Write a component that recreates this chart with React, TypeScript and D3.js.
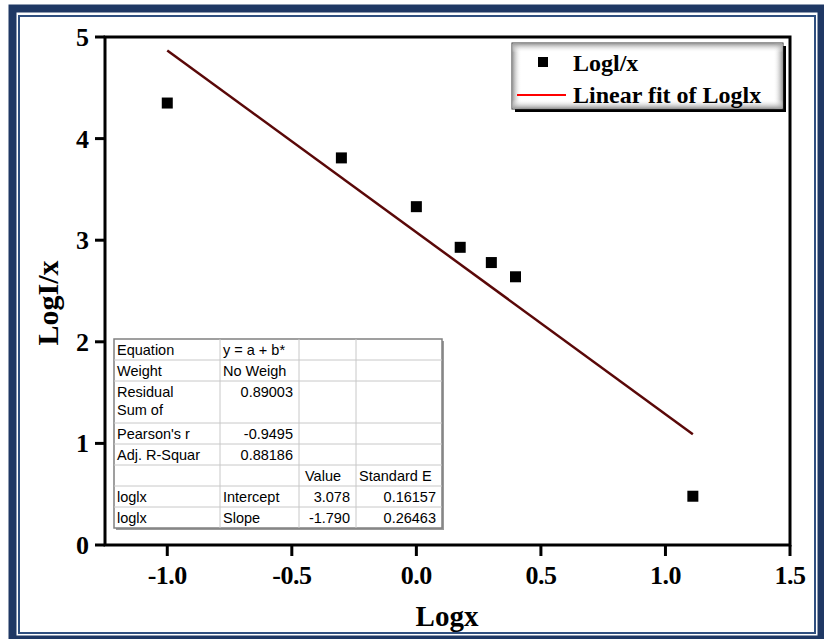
import React from "react";
import * as d3 from "d3";

const xValues = [-1.0, -0.301, 0.0, 0.176, 0.301, 0.398, 1.11];
const yValues = [4.35, 3.81, 3.33, 2.93, 2.78, 2.64, 0.48];
const fitX = [-1.0, 1.11];
const fitY = [4.868, 1.091];
const xTicks = [-1.0, -0.5, 0.0, 0.5, 1.0, 1.5];
const yTicks = [0, 1, 2, 3, 4, 5];
const legendLabels = ["Logl/x", "Linear fit of Loglx"];

const tableCol1 = ["Equation", "Weight", "Residual|Sum of", "Pearson's r", "Adj. R-Squar", "", "loglx", "loglx"];
const tableCol2 = ["y = a + b*", "No Weigh", "0.89003", "-0.9495", "0.88186", "", "Intercept", "Slope"];
const tableCol3 = ["", "", "", "", "", "Value", "3.078", "-1.790"];
const tableCol4 = ["", "", "", "", "", "Standard E", "0.16157", "0.26463"];
const rowSpans = [1, 1, 2, 1, 1, 1, 1, 1];

const W = 824;
const H = 639;
const serif = "'Liberation Serif', 'Times New Roman', serif";
const sans = "'Liberation Sans', Arial, sans-serif";
const fmtX = (t: number) => d3.format(".1f")(t).replace("\u2212", "-");

export default function App() {
  const x = d3.scaleLinear().domain([-1.25, 1.5]).range([105, 790]);
  const y = d3.scaleLinear().domain([0, 5]).range([545, 37]);
  const line = d3
    .line<number>()
    .x((_, i) => x(fitX[i]))
    .y((d) => y(d));

  // table geometry
  const colEdges = [114, 220, 299, 356, 442];
  const totalRows = d3.sum(rowSpans);
  const rowY = d3.scaleLinear().domain([0, totalRows]).range([339, 528]);
  const rowStarts: number[] = [];
  let acc = 0;
  rowSpans.forEach((s) => {
    rowStarts.push(acc);
    acc += s;
  });
  const isNum = (s: string) => /^-?\d/.test(s);
  const cols = [tableCol1, tableCol2, tableCol3, tableCol4];

  const lg = { x: 512, y: 43, w: 271, h: 66 };

  return (
    <svg
      width={W}
      height={H}
      style={{ position: "absolute", left: 0, top: 0, background: "#fff" }}
    >
      <defs>
        <linearGradient id="gL" x1="0" x2="1" y1="0" y2="0">
          <stop offset="0" stopColor="#9a9a9a" />
          <stop offset="1" stopColor="#ffffff" stopOpacity="0" />
        </linearGradient>
        <linearGradient id="gR" x1="1" x2="0" y1="0" y2="0">
          <stop offset="0" stopColor="#9a9a9a" />
          <stop offset="1" stopColor="#ffffff" stopOpacity="0" />
        </linearGradient>
        <linearGradient id="gT" x1="0" x2="0" y1="0" y2="1">
          <stop offset="0" stopColor="#9a9a9a" />
          <stop offset="1" stopColor="#ffffff" stopOpacity="0" />
        </linearGradient>
        <linearGradient id="gB" x1="0" x2="0" y1="1" y2="0">
          <stop offset="0" stopColor="#9a9a9a" />
          <stop offset="1" stopColor="#ffffff" stopOpacity="0" />
        </linearGradient>
      </defs>

      {/* outer frame */}
      <rect x={12.5} y={8.5} width={809} height={631} fill="none" stroke="#1f3864" strokeWidth={8} />
      <rect x={19} y={16} width={796} height={617} fill="none" stroke="#2f4f7f" strokeWidth={2} />

      {/* plot frame */}
      <rect x={x(-1.25)} y={y(5)} width={x(1.5) - x(-1.25)} height={y(0) - y(5)} fill="none" stroke="#000" strokeWidth={3} />

      {/* y ticks */}
      {yTicks.map((t) => (
        <g key={"yt" + t}>
          <line x1={x(-1.25) - 10} x2={x(-1.25)} y1={y(t)} y2={y(t)} stroke="#000" strokeWidth={3} />
          <text x={89} y={y(t) + 9} textAnchor="end" fontFamily={serif} fontWeight="bold" fontSize={26}>
            {d3.format("d")(t)}
          </text>
        </g>
      ))}
      {/* x ticks */}
      {xTicks.map((t) => (
        <g key={"xt" + t}>
          <line x1={x(t)} x2={x(t)} y1={y(0)} y2={y(0) + 11} stroke="#000" strokeWidth={3} />
          <text x={x(t)} y={584} textAnchor="middle" fontFamily={serif} fontWeight="bold" fontSize={26} letterSpacing={-0.5}>
            {fmtX(t)}
          </text>
        </g>
      ))}

      {/* axis titles */}
      <text x={447} y={626} textAnchor="middle" fontFamily={serif} fontWeight="bold" fontSize={29}>
        Logx
      </text>
      <text
        transform={`translate(58, 303) rotate(-90)`}
        textAnchor="middle"
        fontFamily={serif}
        fontWeight="bold"
        fontSize={30}
      >
        LogI/x
      </text>

      {/* fit line */}
      <path d={line(fitY) || ""} fill="none" stroke="#5a0808" strokeWidth={2.5} />

      {/* points */}
      {xValues.map((v, i) => (
        <rect key={"p" + i} x={x(v) - 5.5} y={y(yValues[i]) - 5.5} width={11} height={11} fill="#000" />
      ))}

      {/* table */}
      <g>
        <rect x={colEdges[0] + 2} y={rowY(0) + 2} width={colEdges[4] - colEdges[0]} height={rowY(totalRows) - rowY(0)} fill="#9a9a9a" />
        <rect x={colEdges[0]} y={rowY(0)} width={colEdges[4] - colEdges[0]} height={rowY(totalRows) - rowY(0)} fill="#fff" stroke="#808080" strokeWidth={1.5} />
        {rowStarts.slice(1).map((r, i) => (
          <line key={"rl" + i} x1={colEdges[0]} x2={colEdges[4]} y1={rowY(r)} y2={rowY(r)} stroke="#c8c8c8" strokeWidth={1} />
        ))}
        {colEdges.slice(1, 4).map((c, i) => (
          <line key={"cl" + i} x1={c} x2={c} y1={rowY(0)} y2={rowY(totalRows)} stroke="#c8c8c8" strokeWidth={1} />
        ))}
        {cols.map((col, ci) =>
          col.map((txt, ri) => {
            if (!txt) return null;
            const lines = txt.split("|");
            const num = isNum(txt);
            const tx = num ? colEdges[ci + 1] - 6 : colEdges[ci] + (ci === 2 ? 6 : 3);
            const top = rowY(rowStarts[ri]);
            return lines.map((ln, li) => (
              <text
                key={`c${ci}r${ri}l${li}`}
                x={tx}
                y={top + 15.5 + li * 18}
                textAnchor={num ? "end" : "start"}
                fontFamily={sans}
                fontSize={14.5}
                fill="#000"
              >
                {ln}
              </text>
            ));
          })
        )}
      </g>

      {/* legend */}
      <g>
        <rect x={lg.x + 3} y={lg.y + 3} width={lg.w} height={lg.h} fill="#000" />
        <rect x={lg.x} y={lg.y} width={lg.w} height={lg.h} fill="#fff" stroke="#333" strokeWidth={1} />
        <rect x={lg.x + 0.5} y={lg.y + 0.5} width={9} height={lg.h - 1} fill="url(#gL)" />
        <rect x={lg.x + lg.w - 9.5} y={lg.y + 0.5} width={9} height={lg.h - 1} fill="url(#gR)" />
        <rect x={lg.x + 0.5} y={lg.y + 0.5} width={lg.w - 1} height={9} fill="url(#gT)" />
        <rect x={lg.x + 0.5} y={lg.y + lg.h - 9.5} width={lg.w - 1} height={9} fill="url(#gB)" />
        <rect x={538} y={57} width={10} height={10} fill="#000" />
        <text x={573} y={71} fontFamily={serif} fontWeight="bold" fontSize={24}>
          {legendLabels[0]}
        </text>
        <line x1={517} x2={566} y1={95} y2={95} stroke="#ff0000" strokeWidth={2} />
        <text x={573} y={103} fontFamily={serif} fontWeight="bold" fontSize={24}>
          {legendLabels[1]}
        </text>
      </g>
    </svg>
  );
}
